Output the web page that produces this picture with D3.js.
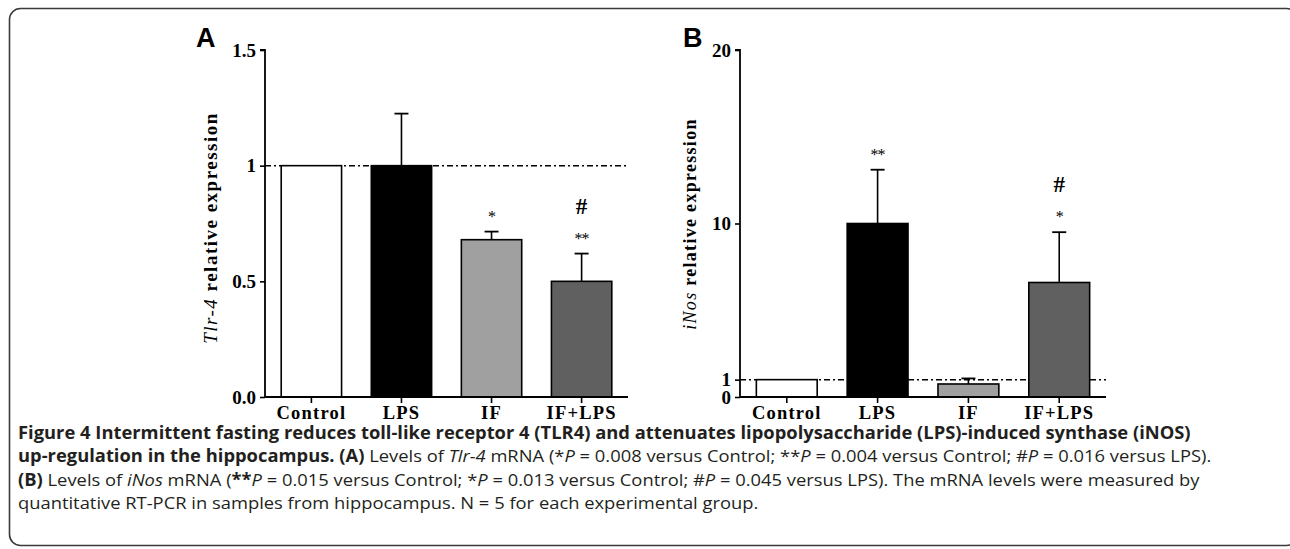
<!DOCTYPE html>
<html><head><meta charset="utf-8">
<script src="https://cdn.jsdelivr.net/npm/d3@7"></script>
<style>html,body{margin:0;padding:0;background:#fff;}svg{display:block;}</style>
</head><body>
<svg id="c" width="1290" height="549"></svg>
<script>
// ---- data ----
const categories = ["Control", "LPS", "IF", "IF+LPS"];
const fills = ["#ffffff", "#000000", "#a0a0a0", "#606060"];
const tlr4Mean = [1.0, 1.0, 0.68, 0.50];
const tlr4Err  = [0, 0.225, 0.035, 0.12];
const tlr4Star = ["", "", "*", "**"];
const tlr4Hash = ["", "", "", "#"];
const tlr4Ticks = [0, 0.5, 1, 1.5];
const tlr4TickLabels = ["0.0", "0.5", "1", "1.5"];
const inosMean = [1.0, 10.0, 0.75, 6.6];
const inosErr  = [0, 3.1, 0.32, 2.9];
const inosStar = ["", "**", "", "*"];
const inosHash = ["", "", "", "#"];
const inosTicks = [0, 1, 10, 20];
const inosTickLabels = ["0", "1", "10", "20"];

const svg = d3.select("#c");
const serif = "'Liberation Serif','Times New Roman',serif";
const sans = "'Open Sans','Noto Sans',sans-serif";

// frame
svg.append("rect").attr("x", 9.5).attr("y", 8.5).attr("width", 1288).attr("height", 537)
  .attr("rx", 11).attr("fill", "none").attr("stroke", "#3a3a3a").attr("stroke-width", 1.6);

function panel(opt) {
  const g = svg.append("g");
  const x = d3.scaleBand().domain(categories).range([opt.x0, opt.x1])
    .paddingInner(0.33).paddingOuter(0.18);
  const y = d3.scaleLinear().domain(opt.domain).range([opt.yb, opt.yt]);

  // reference dashed line at 1
  g.append("line").attr("x1", opt.x0).attr("x2", opt.x1)
    .attr("y1", y(1)).attr("y2", y(1))
    .attr("stroke", "#000").attr("stroke-width", 1.5).attr("stroke-dasharray", "6,3,2,3");

  const data = categories.map((c, i) => ({c, m: opt.mean[i], e: opt.err[i], f: fills[i], s: opt.star[i], h: opt.hash[i]}));

  // error bars
  const eb = g.selectAll(".eb").data(data.filter(d => d.e > 0)).join("g");
  eb.append("line").attr("x1", d => x(d.c) + x.bandwidth() / 2).attr("x2", d => x(d.c) + x.bandwidth() / 2)
    .attr("y1", d => y(d.m)).attr("y2", d => y(d.m + d.e)).attr("stroke", "#000").attr("stroke-width", 1.6);
  eb.append("line").attr("x1", d => x(d.c) + x.bandwidth() / 2 - 7).attr("x2", d => x(d.c) + x.bandwidth() / 2 + 7)
    .attr("y1", d => y(d.m + d.e)).attr("y2", d => y(d.m + d.e)).attr("stroke", "#000").attr("stroke-width", 1.8);

  // bars
  g.selectAll(".bar").data(data).join("rect")
    .attr("x", d => x(d.c)).attr("width", x.bandwidth())
    .attr("y", d => y(d.m)).attr("height", d => y(0) - y(d.m))
    .attr("fill", d => d.f).attr("stroke", "#000").attr("stroke-width", 1.6);

  // significance marks
  g.selectAll(".st").data(data.filter(d => d.s)).join("text")
    .attr("x", d => x(d.c) + x.bandwidth() / 2).attr("y", d => y(d.m + d.e) - 10)
    .attr("text-anchor", "middle").attr("font-family", serif).attr("font-size", 16)
    .attr("letter-spacing", -1).text(d => d.s);
  g.selectAll(".hs").data(data.filter(d => d.h)).join("text")
    .attr("x", d => x(d.c) + x.bandwidth() / 2).attr("y", d => y(d.m + d.e) - 40)
    .attr("text-anchor", "middle").attr("font-family", serif).attr("font-weight", "bold").attr("font-size", 23)
    .text(d => d.h);

  // y axis
  const ya = g.append("g").attr("transform", `translate(${opt.x0},0)`)
    .call(d3.axisLeft(y).tickValues(opt.ticks).tickFormat((d, i) => opt.tickLabels[i]).tickSize(5).tickPadding(4));
  ya.select(".domain").attr("stroke-width", 1.8).attr("d", `M-5,${opt.yt}H0V${opt.yb}`);
  ya.selectAll(".tick line").attr("stroke-width", 1.6);
  ya.selectAll("text").attr("font-family", serif).attr("font-weight", "bold").attr("font-size", 19).attr("fill", "#000");

  // x axis
  const xa = g.append("g").attr("transform", `translate(0,${opt.yb})`)
    .call(d3.axisBottom(x).tickSize(6).tickPadding(3));
  xa.select(".domain").attr("stroke-width", 1.8).attr("d", `M${opt.x0},0H${opt.x1}`);
  xa.selectAll(".tick line").attr("stroke-width", 1.6);
  xa.selectAll("text").attr("font-family", serif).attr("font-weight", "bold").attr("font-size", 18.5)
    .attr("letter-spacing", 1.2).attr("fill", "#000");

  // y title
  const t = g.append("text").attr("transform", `translate(${opt.titleX},${opt.titleY}) rotate(-90)`)
    .attr("text-anchor", "middle").attr("font-family", serif).attr("font-weight", "bold")
    .attr("font-size", opt.titleSize).attr("letter-spacing", opt.titleLs);
  t.append("tspan").attr("font-style", "italic").attr("font-weight", "normal").text(opt.titleItalic);
  t.append("tspan").text(opt.titleRest);

  // panel letter
  svg.append("text").attr("x", opt.letterX).attr("y", 47).attr("font-family", "'Liberation Sans',Arial,sans-serif")
    .attr("font-weight", "bold").attr("font-size", 27).text(opt.letter);
}

panel({x0: 265, x1: 628, yb: 397, yt: 50, domain: [0, 1.5], mean: tlr4Mean, err: tlr4Err,
  star: tlr4Star, hash: tlr4Hash, ticks: tlr4Ticks, tickLabels: tlr4TickLabels,
  titleX: 217, titleY: 228, titleSize: 19, titleLs: 1.5, titleItalic: "Tlr-4", titleRest: " relative expression",
  letter: "A", letterX: 196});
panel({x0: 740, x1: 1106, yb: 397, yt: 50, domain: [0, 20], mean: inosMean, err: inosErr,
  star: inosStar, hash: inosHash, ticks: inosTicks, tickLabels: inosTickLabels,
  titleX: 696, titleY: 224, titleSize: 18, titleLs: 1.3, titleItalic: "iNos", titleRest: " relative expression",
  letter: "B", letterX: 683});

// caption
const capLines = [
  {y: 439, parts: [["b", "Figure 4 Intermittent fasting reduces toll-like receptor 4 (TLR4) and attenuates lipopolysaccharide (LPS)-induced synthase (iNOS)"]]},
  {y: 462, parts: [["b", "up-regulation in the hippocampus. (A)"], ["n", " Levels of "], ["i", "Tlr-4"], ["n", " mRNA (*"], ["i", "P"], ["n", " = 0.008 versus Control; **"], ["i", "P"], ["n", " = 0.004 versus Control; #"], ["i", "P"], ["n", " = 0.016 versus LPS)."]]},
  {y: 486, parts: [["b", "(B)"], ["n", " Levels of "], ["i", "iNos"], ["n", " mRNA ("], ["b", "**"], ["i", "P"], ["n", " = 0.015 versus Control; *"], ["i", "P"], ["n", " = 0.013 versus Control; #"], ["i", "P"], ["n", " = 0.045 versus LPS). The mRNA levels were measured by"]]},
  {y: 509, parts: [["n", "quantitative RT-PCR in samples from hippocampus. N = 5 for each experimental group."]]}
];
const capG = svg.append("g");
const capTexts = capLines.map(l => {
  const t = capG.append("text").attr("x", 0).attr("y", l.y).attr("font-family", sans).attr("font-size", 17)
    .attr("fill", "#231f20");
  l.parts.forEach(p => {
    const s = t.append("tspan").text(p[1]);
    if (p[0] === "b") s.attr("font-weight", "bold");
    if (p[0] === "i") s.attr("font-style", "italic");
  });
  return t;
});
const w0 = capTexts[0].node().getComputedTextLength();
const sx = 1173 / w0;
capG.attr("transform", `translate(18,0) scale(${sx},1)`);
</script>
</body></html>
